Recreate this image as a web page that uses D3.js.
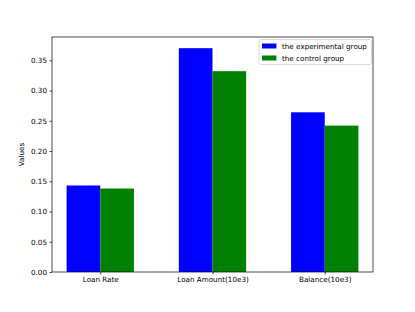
<!DOCTYPE html>
<html>
    <head>
        <style>
            body { margin: 0; background: #fff; }
            text { font-family: "DejaVu Sans", sans-serif; font-size: 7.2px; fill: #000; }
        </style>
    </head>
    <body>
        <svg></svg>

        <script src="https://d3js.org/d3.v7.min.js"></script>

        <script>
            const categories = ["Loan Rate", "Loan Amount(10e3)", "Balance(10e3)"];
            const experimental = [0.143, 0.370, 0.264];
            const control = [0.138, 0.332, 0.242];
            const seriesNames = ["the experimental group", "the control group"];
            const colors = ["#0000ff", "#008000"];
            const yTicks = [0, 0.05, 0.10, 0.15, 0.20, 0.25, 0.30, 0.35];

            const width = 415,
                height = 312;
            const plotLeft = 52, plotRight = 373, plotTop = 37, plotBottom = 272;
            const barW = 0.3;
            const fontSize = 7.2;

            const svg = d3.select("svg")
                        .attr("width", width)
                        .attr("height", height);

            // x in category units, like matplotlib's default margins
            const x = d3.scaleLinear()
                        .domain([-barW - 0.13, categories.length - 1 + barW + 0.13])
                        .range([plotLeft, plotRight]);

            const y = d3.scaleLinear()
                        .domain([0, d3.max(experimental.concat(control)) * 1.05])
                        .range([plotBottom, plotTop]);

            const series = [experimental, control];

            // Bars: experimental left of tick, control right of tick
            series.forEach(function(vals, s) {
                svg.append("g")
                    .selectAll("rect")
                    .data(vals)
                    .enter()
                    .append("rect")
                    .attr("x", function(d, i) { return x(i - barW + s * barW); })
                    .attr("y", function(d) { return y(d); })
                    .attr("width", function(d, i) { return x(i + barW) - x(i); })
                    .attr("height", function(d) { return plotBottom - y(d); })
                    .attr("fill", colors[s]);
            });

            // Axes
            const yAxis = d3.axisLeft(y)
                        .tickValues(yTicks)
                        .tickFormat(d3.format(".2f"))
                        .tickSize(2.5)
                        .tickPadding(2.5);

            const xAxis = d3.axisBottom(x)
                        .tickValues(categories.map(function(c, i) { return i; }))
                        .tickFormat(function(i) { return categories[i]; })
                        .tickSize(2.5)
                        .tickPadding(2.5);

            const gy = svg.append("g")
                        .attr("transform", "translate(" + plotLeft + ",0)")
                        .call(yAxis);
            const gx = svg.append("g")
                        .attr("transform", "translate(0," + plotBottom + ")")
                        .call(xAxis);

            [gx, gy].forEach(function(g) {
                g.select(".domain").remove();
                g.selectAll("line").attr("stroke", "#000").attr("stroke-width", 0.7);
                g.selectAll("text").attr("font-size", fontSize).attr("font-family", "DejaVu Sans").attr("fill", "#000");
            });

            // Frame
            svg.append("rect")
                .attr("x", plotLeft)
                .attr("y", plotTop)
                .attr("width", plotRight - plotLeft)
                .attr("height", plotBottom - plotTop)
                .attr("fill", "none")
                .attr("stroke", "#000")
                .attr("stroke-width", 0.7);

            // Y label
            svg.append("text")
                .attr("transform", "translate(" + 24 + "," + ((plotTop + plotBottom) / 2) + ") rotate(-90)")
                .attr("text-anchor", "middle")
                .text("Values");

            // Legend
            const lg = svg.append("g")
                        .attr("transform", "translate(259,39.5)");
            lg.append("rect")
                .attr("width", 112.5)
                .attr("height", 25)
                .attr("rx", 2)
                .attr("fill", "#fff")
                .attr("fill-opacity", 0.8)
                .attr("stroke", "#ccc")
                .attr("stroke-width", 0.7);

            const items = lg.selectAll("g")
                        .data(seriesNames)
                        .enter()
                        .append("g")
                        .attr("transform", function(d, i) { return "translate(3,"+ (6.5 + i * 12) + ")"; });
            items.append("rect")
                .attr("width", 14.4)
                .attr("height", 5)
                .attr("y", -2.5)
                .attr("fill", function(d, i) { return colors[i]; });
            items.append("text")
                .attr("x", 20)
                .attr("dy", ".35em")
                .text(function(d) { return d; });
        </script>
    </body>
</html>
